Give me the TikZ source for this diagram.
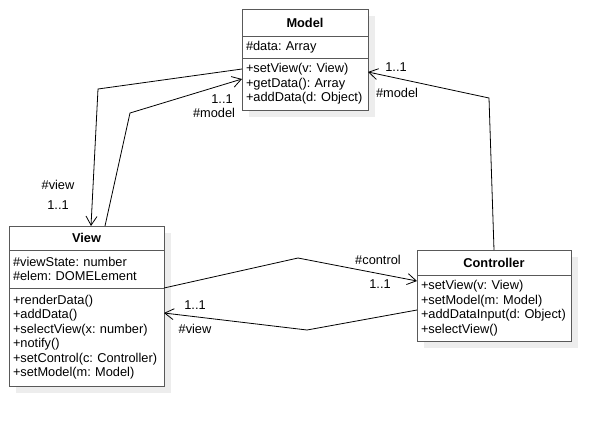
\documentclass[tikz,border=0pt]{standalone}
\usepackage{fontspec}
\setmainfont{Liberation Sans}
\usetikzlibrary{positioning,arrows.meta,backgrounds}
\newcommand\umlsize{\fontsize{12.8}{14.5}\selectfont\frenchspacing}

\begin{document}
\begin{tikzpicture}[x=1pt,y=-1pt,
  cls/.style={draw=black!65, line width=1pt, fill=white, outer sep=0pt, inner xsep=4pt, inner ysep=0pt, font=\umlsize},
  classname/.style={cls, align=center, font=\umlsize\bfseries},
  members/.style={cls, align=left},
  assoc/.style={black, line width=0.8pt, -{Straight Barb[length=9pt,width=11pt]}},
  role/.style={inner sep=0pt, font=\umlsize},
  shade/.style={fill=black!7}]
\useasboundingbox (0,0) rectangle (613,426);
\node[classname, text width=118pt, minimum height=27pt] (model) at (305,22.5) {Model};
\node[members, text width=118pt, minimum height=22pt, below=0pt of model] (model-attr) {\#data: Array};
\node[members, text width=118pt, minimum height=52pt, below=0pt of model-attr] (model-ops) {+setView(v: View)\\+getData(): Array\\+addData(d: Object)};
\node[classname, text width=147pt, minimum height=24pt] (view) at (86.5,238) {View};
\node[members, text width=147pt, minimum height=38pt, below=0pt of view] (view-attr) {\#viewState: number\\\#elem: DOMELement};
\node[members, text width=147pt, minimum height=98pt, below=0pt of view-attr] (view-ops) {+renderData()\\+addData()\\+selectView(x: number)\\+notify()\\+setControl(c: Controller)\\+setModel(m: Model)};
\node[classname, text width=146pt, minimum height=25pt] (ctrl) at (494,262.5) {Controller};
\node[members, text width=146pt, minimum height=66pt, below=0pt of ctrl] (ctrl-ops) {+setView(v: View)\\+setModel(m: Model)\\+addDataInput(d: Object)\\+selectView()};
\begin{scope}[on background layer]
\fill[shade] ([shift={(7,7)}]model.north west) rectangle ([shift={(7,7)}]model-ops.south east);
\fill[shade] ([shift={(7,7)}]view.north west) rectangle ([shift={(7,7)}]view-ops.south east);
\fill[shade] ([shift={(7,7)}]ctrl.north west) rectangle ([shift={(7,7)}]ctrl-ops.south east);
\end{scope}
\coordinate (b1) at (98,89);
\coordinate (b2) at (130,113);
\coordinate (b3) at (489,98);
\coordinate (b4) at (298,258);
\coordinate (b5) at (307,330);
\draw[assoc] ([yshift=15pt]model-ops.west) -- (b1) -- ([xshift=4.5pt]view.north);
\node[role] (view-role1) at (58,185) {\#view};
\node[role] (view-mult1) at (58,205) {1..1};
\draw[assoc] ([xshift=18.5pt]view.north) -- (b2) -- ([yshift=5pt]model-ops.west);
\node[role] (model-mult1) at (222,99) {1..1};
\node[role] (model-role1) at (214,113) {\#model};
\draw[assoc] (ctrl.north) -- (b3) -- ([yshift=12pt]model-ops.east);
\node[role] (model-mult2) at (396,67) {1..1};
\node[role] (model-role2) at (397,93) {\#model};
\draw[assoc] (view-attr.south east) -- (b4) -- ([yshift=-6pt]ctrl-ops.north west);
\node[role] (ctrl-role) at (378,260) {\#control};
\node[role] (ctrl-mult) at (380,284) {1..1};
\draw[assoc] ([yshift=-2pt]ctrl-ops.west) -- (b5) -- ([yshift=-25pt]view-ops.north east);
\node[role] (view-mult2) at (195,305) {1..1};
\node[role] (view-role2) at (195,329) {\#view};
\end{tikzpicture}
\end{document}
